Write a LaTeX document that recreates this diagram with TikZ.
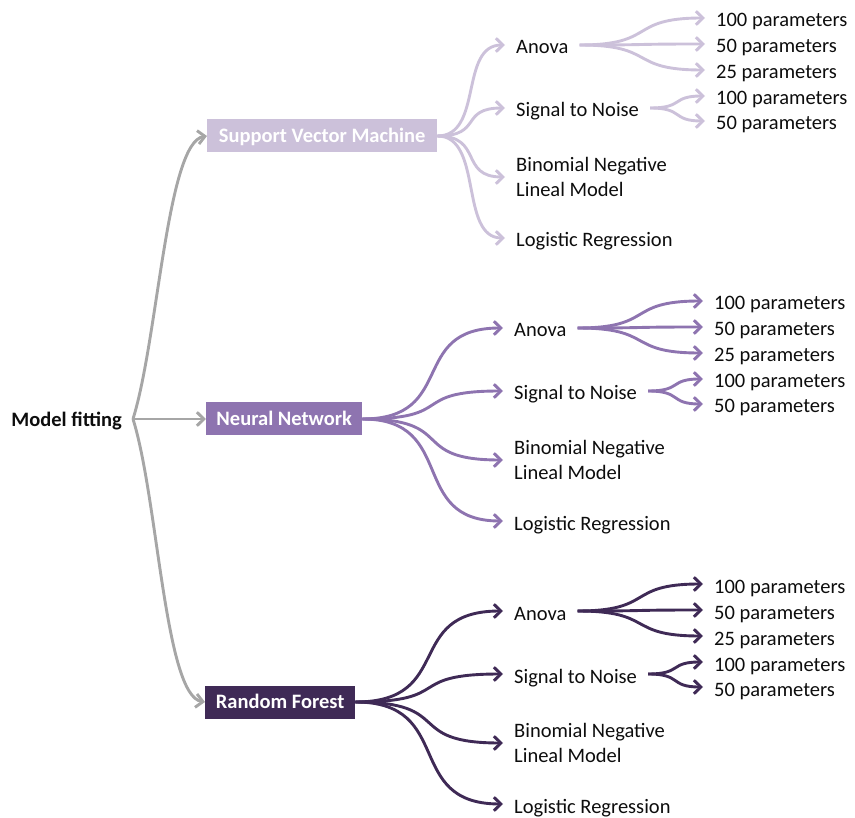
\documentclass[tikz,border=0pt]{standalone}
\usepackage{fontspec}
\setmainfont{Carlito}
\usetikzlibrary{arrows.meta,calc}

\definecolor{svmc}{HTML}{CCC1DA}
\definecolor{nnc}{HTML}{8E74B0}
\definecolor{rfc}{HTML}{3F2A56}
\definecolor{linkgrey}{HTML}{A6A6A6}
\definecolor{ink}{HTML}{0D0D0D}

\tikzset{
  conn/.style={line width=2.9pt, -{Straight Barb[length=7pt,width=13.5pt]}},
  % S curve leaving and entering horizontally, steep in the middle
  brk/.style={to path={let \p1=(\tikztostart), \p2=(\tikztotarget),
      \n1={#1*(\x2-\x1)} in
      .. controls +(\n1,0) and +(-\n1,0) .. (\tikztotarget) \tikztonodes}},
  lbl/.style={anchor=west, inner xsep=11pt, inner ysep=0pt, text height=18pt,
    text depth=0pt, text=ink, font=\fontsize{20.5}{25}\selectfont},
  lbltwo/.style={anchor=west, inner xsep=11pt, inner ysep=0pt, align=left,
    text=ink, font=\fontsize{20.5}{25}\selectfont},
  algbox/.style={anchor=west, minimum height=33pt, inner sep=0pt, text height=13pt,
    text depth=0pt, text=white, font=\fontsize{20.5}{25}\selectfont\bfseries},
}

% One classifier with its feature-selection branches.
% #1 prefix, #2 vertical offset, #3 x of method labels, #4 x of parameter labels,
% #5 colour, #6 box west x, #7 box width, #8 box text
\newcommand\methodgroup[8]{%
  \node[algbox, fill=#5, minimum width=#7pt] (#1box) at (#6,136+#2) {#8};
  \node[lbl] (#1anova) at (#3,45+#2) {Anova};
  \node[lbl] (#1snr) at (#3,108+#2) {Signal to Noise};
  \node[lbltwo] (#1nb) at (#3,177+#2) {Binomial Negative\\Lineal Model};
  \node[lbl] (#1lr) at (#3,238+#2) {Logistic Regression};
  \node[lbl] (#1a100) at (#4,18+#2) {100 parameters};
  \node[lbl] (#1a50) at (#4,44+#2) {50 parameters};
  \node[lbl] (#1a25) at (#4,70+#2) {25 parameters};
  \node[lbl] (#1s100) at (#4,96+#2) {100 parameters};
  \node[lbl] (#1s50) at (#4,121+#2) {50 parameters};
  \draw[conn, #5] (#1box.east) to[brk=0.68] (#1anova.west);
  \draw[conn, #5] (#1box.east) to[brk=0.68] (#1snr.west);
  \draw[conn, #5] (#1box.east) to[brk=0.68] (#1nb.west);
  \draw[conn, #5] (#1box.east) to[brk=0.68] (#1lr.west);
  \draw[conn, #5] (#1anova.east) to[brk=0.62] (#1a100.west);
  \draw[conn, #5] (#1anova.east) to[brk=0.62] (#1a50.west);
  \draw[conn, #5] (#1anova.east) to[brk=0.62] (#1a25.west);
  \draw[conn, #5] (#1snr.east) to[brk=0.62] (#1s100.west);
  \draw[conn, #5] (#1snr.east) to[brk=0.62] (#1s50.west);
}

\begin{document}
\begin{tikzpicture}[x=1pt, y=-1pt]
  \useasboundingbox (0,0) rectangle (855,818);

  \methodgroup{svm}{0}{505}{705}{svmc}{207}{230}{Support Vector Machine}
  \methodgroup{nn}{283}{503}{703}{nnc}{206}{156}{Neural Network}
  \methodgroup{rf}{566}{503}{703}{rfc}{205}{150}{Random Forest}

  % root and its three classifiers
  \node[lbl, anchor=east, text height=15pt, font=\fontsize{20.5}{25}\selectfont\bfseries]
    (mf) at (133,419) {Model fitting};
  \draw[conn, linkgrey] (mf.east) .. controls +(25,-80) and +(-40,6) .. (svmbox.west);
  \draw[conn, linkgrey] (mf.east) -- (nnbox.west);
  \draw[conn, linkgrey] (mf.east) .. controls +(25,80) and +(-40,-6) .. (rfbox.west);
\end{tikzpicture}
\end{document}
